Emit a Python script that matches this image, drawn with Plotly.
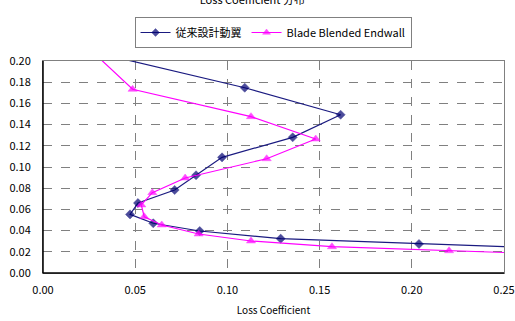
import plotly.graph_objects as go

# Series data (x = loss coefficient, y = position)
conv_x = [0.0407, 0.1094, 0.1614, 0.1354, 0.0971, 0.0830, 0.0714, 0.0515, 0.0472, 0.0598, 0.0850, 0.1289, 0.2039, 0.2522]
conv_y = [0.2030, 0.1748, 0.1493, 0.1280, 0.1091, 0.0922, 0.0783, 0.0660, 0.0553, 0.0469, 0.0396, 0.0324, 0.0274, 0.0248]
bbe_x = [0.0304, 0.0486, 0.1128, 0.1479, 0.1213, 0.0771, 0.0593, 0.0533, 0.0549, 0.0644, 0.0844, 0.1128, 0.1567, 0.2202, 0.2522]
bbe_y = [0.2030, 0.1733, 0.1475, 0.1264, 0.1078, 0.0896, 0.0758, 0.0642, 0.0531, 0.0453, 0.0368, 0.0302, 0.0248, 0.0210, 0.0192]
marker_idx_conv = list(range(1, 13))
marker_idx_bbe = list(range(1, 14))

x_ticks = [0.00, 0.05, 0.10, 0.15, 0.20, 0.25]
y_ticks = [0.00, 0.02, 0.04, 0.06, 0.08, 0.10, 0.12, 0.14, 0.16, 0.18, 0.20]

FONT = "Noto Sans CJK JP"

def sizes(n, idx, s):
    return [s if i in idx else 0 for i in range(n)]

fig = go.Figure()
fig.add_trace(go.Scatter(
    x=conv_x, y=conv_y, mode="lines+markers", name="従来設計動翼",
    line=dict(color="#1a1a80", width=1.2),
    marker=dict(symbol="diamond", color="#000070", size=sizes(len(conv_x), marker_idx_conv, 7),
                line=dict(width=0.5, color="#000070")),
))
fig.add_trace(go.Scatter(
    x=bbe_x, y=bbe_y, mode="lines+markers", name="Blade Blended Endwall",
    line=dict(color="#FF00FF", width=1.2),
    marker=dict(symbol="triangle-up", color="#FF00FF", size=sizes(len(bbe_x), marker_idx_bbe, 8),
                line=dict(width=0.5, color="#FF00FF")),
))

fig.update_layout(
    width=515, height=321,
    margin=dict(l=43, r=11, t=61, b=48, autoexpand=False),
    paper_bgcolor="white", plot_bgcolor="white",
    font=dict(family=FONT, size=11, color="black"),
    title=dict(text="Loss Coefficient 分布", font=dict(size=11), x=0.49, xanchor="center",
               y=1.0, yref="container", yanchor="middle"),
    legend=dict(orientation="h", x=0.499, xanchor="center", y=1.2075, yanchor="top",
                bordercolor="#808080", borderwidth=1, bgcolor="white",
                font=dict(size=11, family=FONT), itemwidth=30,
                tracegroupgap=0),
    showlegend=True,
)
fig.update_xaxes(
    range=[0, 0.25], tickvals=x_ticks, ticktext=[f"{v:.2f}" for v in x_ticks],
    showgrid=True, gridcolor="#808080", griddash="dash", gridwidth=1,
    showline=True, linecolor="#808080", linewidth=1, mirror=True,
    zeroline=False, ticks="", ticklabelstandoff=7, automargin=False,
    title=dict(text="Loss Coefficient", font=dict(size=10), standoff=10),
)
fig.update_yaxes(
    range=[0, 0.20], tickvals=y_ticks, ticktext=[f"{v:.2f}" for v in y_ticks],
    showgrid=True, gridcolor="#808080", griddash="dash", gridwidth=1,
    showline=True, linecolor="#808080", linewidth=1, mirror=True,
    zeroline=False, ticks="", ticklabelstandoff=9, automargin=False,
)
# dark left & bottom axis lines
fig.add_shape(type="line", xref="paper", yref="paper", x0=0, x1=0, y0=0, y1=1,
              line=dict(color="black", width=1.5))
fig.add_shape(type="line", xref="paper", yref="paper", x0=0, x1=1, y0=0, y1=0,
              line=dict(color="black", width=1.5))

fig.write_html("out.html")
